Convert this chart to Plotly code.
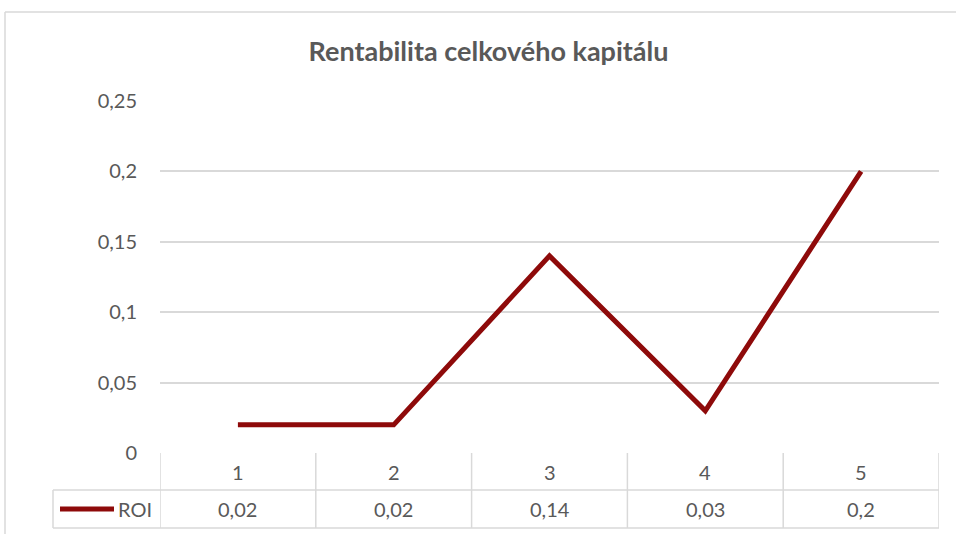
import plotly.graph_objects as go

# Data
categories = [1, 2, 3, 4, 5]
roi = [0.02, 0.02, 0.14, 0.03, 0.2]
series_name = "ROI"
y_ticks = [0, 0.05, 0.1, 0.15, 0.2, 0.25]

W, H = 956, 534
font_family = "Lato, 'Open Sans', sans-serif"
text_color = "#595959"
grid_color = "#d9d9d9"
line_color = "#8e0a0a"


def py(px):
    # pixel y -> paper y
    return 1 - px / H


def px_x(px):
    return px / W


# plot area in pixels
x0_px, x1_px = 160, 939
y_top_px, y_bot_px = 101, 453
row1_px, row2_px = 490, 528
legend_left_px = 53

fig = go.Figure()

fig.add_trace(go.Scatter(
    x=categories, y=roi, mode="lines", name=series_name,
    line=dict(color=line_color, width=5),
    hoverinfo="skip",
))

shapes = []
# chart area border (top and left edges visible)
shapes.append(dict(type="line", xref="paper", yref="paper",
                   x0=px_x(5), x1=1.01, y0=py(12), y1=py(12),
                   line=dict(color=grid_color, width=1.5)))
shapes.append(dict(type="line", xref="paper", yref="paper",
                   x0=px_x(5), x1=px_x(5), y0=py(12), y1=-0.01,
                   line=dict(color=grid_color, width=1.5)))

# data table lines
shapes.append(dict(type="line", xref="paper", yref="paper",
                   x0=px_x(legend_left_px), x1=px_x(x1_px), y0=py(row1_px), y1=py(row1_px),
                   line=dict(color=grid_color, width=1.5)))
shapes.append(dict(type="line", xref="paper", yref="paper",
                   x0=px_x(legend_left_px), x1=px_x(x1_px), y0=py(row2_px), y1=py(row2_px),
                   line=dict(color=grid_color, width=1.5)))
shapes.append(dict(type="line", xref="paper", yref="paper",
                   x0=px_x(legend_left_px), x1=px_x(legend_left_px), y0=py(row1_px), y1=py(row2_px),
                   line=dict(color=grid_color, width=1.5)))
for i in range(len(categories) + 1):
    shapes.append(dict(type="line", xref="x", yref="paper",
                       x0=categories[0] - 0.5 + i, x1=categories[0] - 0.5 + i,
                       y0=py(y_bot_px), y1=py(row2_px),
                       line=dict(color=grid_color, width=1.5)))
# legend key line
shapes.append(dict(type="line", xref="paper", yref="paper",
                   x0=px_x(60), x1=px_x(114), y0=py(509), y1=py(509),
                   line=dict(color=line_color, width=5)))

cell_font = dict(size=20, color=text_color, family=font_family)
annotations = []
for c, v in zip(categories, roi):
    annotations.append(dict(x=c, y=py((y_bot_px + row1_px) / 2), xref="x", yref="paper",
                            text=str(c), showarrow=False, xanchor="center", yanchor="middle",
                            font=cell_font))
    annotations.append(dict(x=c, y=py((row1_px + row2_px) / 2), xref="x", yref="paper",
                            text=f"{v:g}".replace(".", ","), showarrow=False,
                            xanchor="center", yanchor="middle", font=cell_font))
annotations.append(dict(x=px_x(116), y=py((row1_px + row2_px) / 2), xref="paper", yref="paper",
                        text=series_name, showarrow=False, xanchor="left", yanchor="middle",
                        font=cell_font))

fig.update_layout(
    width=W, height=H,
    margin=dict(l=0, r=0, t=0, b=0, autoexpand=False),
    paper_bgcolor="white", plot_bgcolor="white",
    separators=", ",
    showlegend=False,
    title=dict(text="<b>Rentabilita celkového kapitálu</b>", x=0.511, xanchor="center",
               y=py(52), yanchor="middle", automargin=False,
               font=dict(size=27, color=text_color, family=font_family)),
    xaxis=dict(domain=[px_x(x0_px), px_x(x1_px)], range=[0.5, 5.5], automargin=False,
               showgrid=False, showticklabels=False, zeroline=False, showline=False),
    yaxis=dict(domain=[py(y_bot_px), py(y_top_px)], range=[0, 0.25], automargin=False,
               tickvals=y_ticks, showgrid=True, gridcolor=grid_color, gridwidth=1.5,
               zeroline=False, showline=False, ticks="", ticklabelstandoff=22,
               tickfont=dict(size=20, color=text_color, family=font_family)),
    shapes=shapes, annotations=annotations,
)

fig.write_html("out.html", config={"displayModeBar": False},
               post_script="document.body.style.margin='0';")
